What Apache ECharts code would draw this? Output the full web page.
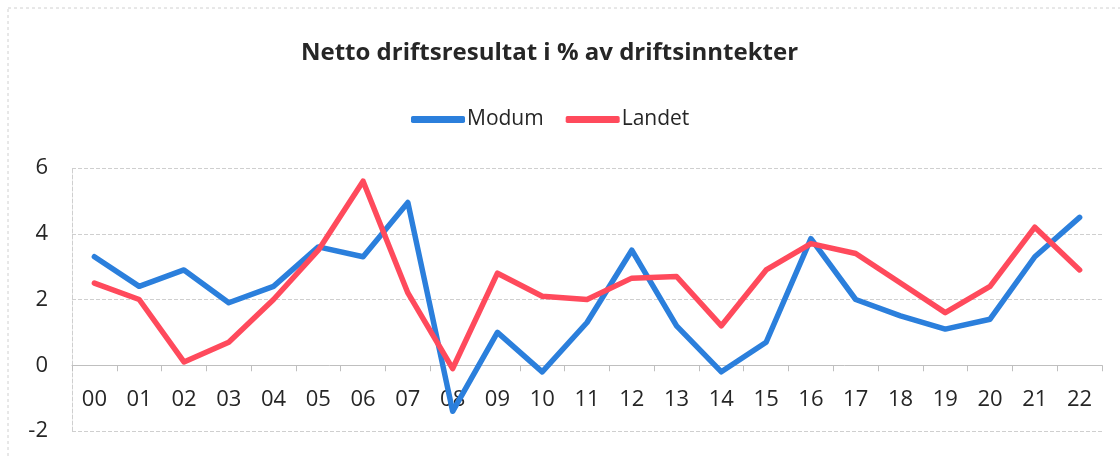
<!DOCTYPE html>
<html>
<head>
<meta charset="utf-8">
<script src="https://cdn.jsdelivr.net/npm/echarts@6/dist/echarts.min.js"></script>
<style>
    html, body { margin: 0; padding: 0; background: #fff; }
    #chart { width: 1120px; height: 456px; }
</style>
</head>
<body>
<div id="chart"></div>
<script>
let years = ['00', '01', '02', '03', '04', '05', '06', '07', '08', '09', '10', '11',
    '12', '13', '14', '15', '16', '17', '18', '19', '20', '21', '22'];
let modum = [3.3, 2.4, 2.9, 1.9, 2.4, 3.6, 3.3, 4.95, -1.4, 1.0, -0.2, 1.3,
    3.5, 1.2, -0.2, 0.7, 3.85, 2.0, 1.5, 1.1, 1.4, 3.3, 4.5];
let landet = [2.5, 2.0, 0.1, 0.7, 2.0, 3.5, 5.6, 2.2, -0.1, 2.8, 2.1, 2.0,
    2.65, 2.7, 1.2, 2.9, 3.7, 3.4, 2.5, 1.6, 2.4, 4.2, 2.9];
let yTicks = {min: -2, max: 6, interval: 2};

let font = '"Open Sans", "Noto Sans", sans-serif';
let gridTop = 168, gridBottom = 25, chartHeight = 456;
// move the category axis up to the zero line
let plotHeight = chartHeight - gridTop - gridBottom;
let zeroOffset = -plotHeight * (0 - yTicks.min) / (yTicks.max - yTicks.min);

let chart = echarts.init(document.getElementById('chart'));

let option = {
    backgroundColor: '#fff',
    animation: false,
    title: {
        text: 'Netto driftsresultat i % av driftsinntekter',
        left: 296,
        top: 36,
        textStyle: {fontFamily: font, fontSize: 24, fontWeight: 'bold', color: '#262626'}
    },
    legend: {
        top: 104,
        left: 406,
        icon: 'roundRect',
        itemWidth: 54,
        itemHeight: 7,
        itemGap: 22,
        textStyle: {fontFamily: font, fontSize: 21, color: '#262626', padding: [0, 0, 0, -3]},
        data: ['Modum', 'Landet']
    },
    grid: {left: 72, right: 18, top: gridTop, bottom: gridBottom, outerBoundsMode: 'none'},
    xAxis: {
        type: 'category',
        data: years,
        boundaryGap: true,
        offset: zeroOffset,
        axisLine: {onZero: false, lineStyle: {color: '#bfbfbf', width: 1}},
        axisTick: {show: true, length: 6, lineStyle: {color: '#bfbfbf'}},
        axisLabel: {fontFamily: font, fontSize: 22, color: '#262626', margin: 23}
    },
    yAxis: {
        type: 'value',
        min: yTicks.min,
        max: yTicks.max,
        interval: yTicks.interval,
        axisLine: {show: true, lineStyle: {color: '#cfcfcf', type: 'dashed'}},
        axisTick: {show: false},
        axisLabel: {fontFamily: font, fontSize: 22, color: '#262626', margin: 24},
        splitLine: {lineStyle: {color: '#cfcfcf', type: 'dashed'}}
    },
    graphic: [{
        type: 'rect',
        shape: {x: 8, y: 8, width: 1120, height: 460},
        style: {fill: 'none', stroke: '#d0d0d0', lineWidth: 1, lineDash: [3, 3]},
        silent: true
    }],
    series: [
        {
            name: 'Modum',
            type: 'line',
            data: modum,
            symbol: 'none',
            color: '#2b7fdc',
            lineStyle: {width: 5.5, color: '#2b7fdc', join: 'round', cap: 'round'}
        },
        {
            name: 'Landet',
            type: 'line',
            data: landet,
            symbol: 'none',
            color: '#ff4a5c',
            lineStyle: {width: 5.5, color: '#ff4a5c', join: 'round', cap: 'round'}
        }
    ]
};

chart.setOption(option);
</script>
</body>
</html>
